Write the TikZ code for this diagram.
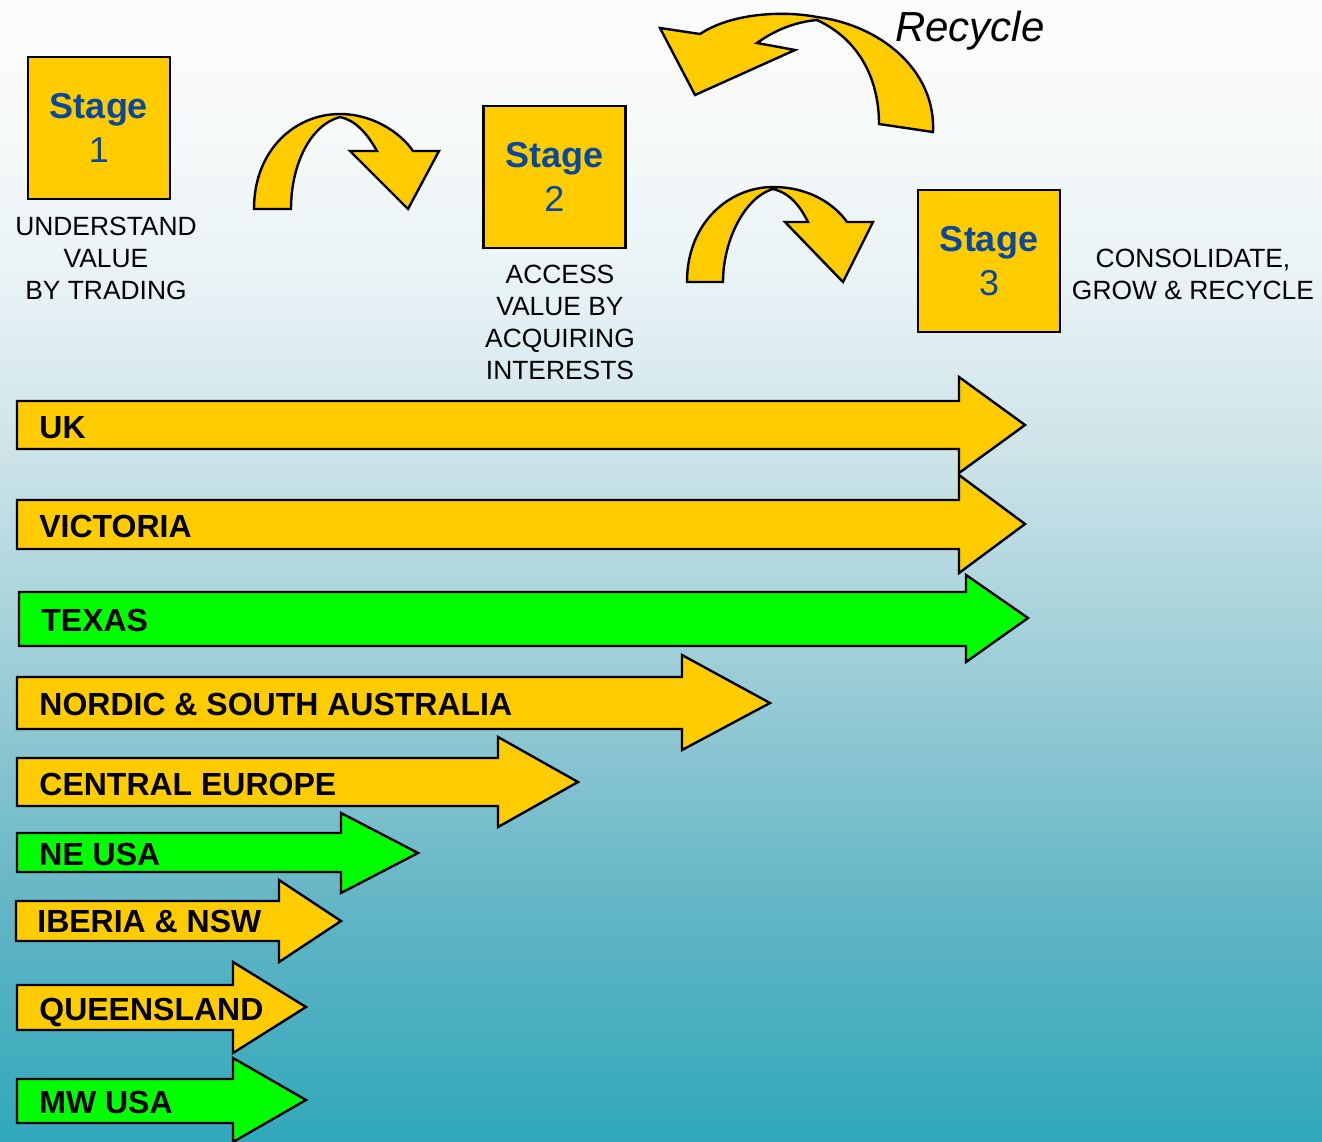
\documentclass[tikz,border=0pt]{standalone}
\usepackage{fontspec}
\setmainfont{Liberation Sans}
\usetikzlibrary{positioning}

\definecolor{stagegold}{RGB}{255,204,0}
\definecolor{regiongreen}{RGB}{0,255,0}
\definecolor{stageblue}{RGB}{10,72,160}

\pgfdeclareverticalshading{bgshade}{100bp}{rgb(0bp)=(0.19,0.66,0.73); rgb(25bp)=(0.19,0.66,0.73); rgb(35bp)=(0.38,0.71,0.77); rgb(45bp)=(0.60,0.80,0.84); rgb(55bp)=(0.80,0.89,0.91); rgb(62.5bp)=(0.91,0.95,0.96); rgb(70bp)=(0.97,0.98,0.98); rgb(75bp)=(0.99,0.99,0.99); rgb(100bp)=(0.99,0.99,0.99)}

\tikzset{
  region/.style={draw=black, very thick, line join=miter},
  regionlabel/.style={anchor=base west, inner sep=0pt, font=\fontsize{16}{19}\selectfont\bfseries},
  stagebox/.style={draw=black, very thick, fill=stagegold, minimum size=71pt, inner sep=0pt,
    align=center, text=stageblue, font=\fontsize{18}{22}\selectfont},
  stagelabel/.style={anchor=north, align=center, inner sep=0pt, font=\fontsize{13.2}{16}\selectfont},
  turn/.style={draw=black, very thick, fill=stagegold, line join=miter}
}

\begin{document}
\begin{tikzpicture}[x=0.5pt, y=-0.5pt]
    \shade[shading=bgshade] (0,0) rectangle (1322,1141);
    \useasboundingbox (0,0) rectangle (1322,1141);

    % stages
    \node[stagebox] (stage1) at (99,128) {\textbf{Stage}\\1};
    \node[stagebox] (stage2) at (554.5,177) {\textbf{Stage}\\2};
    \node[stagebox] (stage3) at (989,261) {\textbf{Stage}\\3};

    \node[stagelabel] (lab1) at (106,217) {UNDERSTAND\\VALUE\\BY TRADING};
    \node[stagelabel] (lab2) at (560,265) {ACCESS\\VALUE BY\\ACQUIRING\\INTERESTS};
    \node[stagelabel] (lab3) at (1193,249) {CONSOLIDATE,\\GROW \& RECYCLE};

    % curved arrows between stages
    \filldraw[turn] (254,209) .. controls (254,150) and (295,114) .. (340,114)
        .. controls (372,114) and (400,132) .. (413,151) -- (439,151) -- (408,209) -- (350,151) -- (377,151)
        .. controls (367,133) and (355,120) .. (340,117)
        .. controls (310,125) and (291,165) .. (291,209) -- cycle;
    \filldraw[turn] (687,282) .. controls (687,222) and (730,187) .. (773,187)
        .. controls (810,187) and (835,205) .. (847,222) -- (873,222) -- (843,282) -- (785,222) -- (808,222)
        .. controls (800,206) and (790,193) .. (773,189)
        .. controls (745,197) and (723,240) .. (723,282) -- cycle;
    \filldraw[turn] (933,132) .. controls (936,70) and (880,25) .. (817,17)
        .. controls (780,10) and (730,14) .. (700,34) -- (660,28) -- (695,95) -- (795,50) -- (757,43)
        .. controls (775,30) and (795,22) .. (817,20)
        .. controls (860,40) and (879,80) .. (879,124) -- cycle;
    \node[font=\fontsize{21}{25}\selectfont\itshape, inner sep=0pt] (recycle) at (970,31) {Recycle};

    % regions
    \filldraw[region, fill=stagegold] (17,401) -- (959,401) -- (959,377) -- (1025,425) -- (959,473) -- (959,449) -- (17,449) -- cycle;
    \node[regionlabel] (uk) at (39,438) {UK};

    \filldraw[region, fill=stagegold] (17,500) -- (959,500) -- (959,475) -- (1025,524) -- (959,573) -- (959,549) -- (17,549) -- cycle;
    \node[regionlabel] (victoria) at (39,537) {VICTORIA};

    \filldraw[region, fill=regiongreen] (19,592) -- (966,592) -- (966,575) -- (1028,618) -- (966,662) -- (966,646) -- (19,646) -- cycle;
    \node[regionlabel] (texas) at (41,631) {TEXAS};

    \filldraw[region, fill=stagegold] (17,677) -- (682,677) -- (682,655) -- (770,703) -- (682,750) -- (682,729) -- (17,729) -- cycle;
    \node[regionlabel] (nordic) at (39,715) {NORDIC \& SOUTH AUSTRALIA};

    \filldraw[region, fill=stagegold] (17,758) -- (498,758) -- (498,737) -- (578,782) -- (498,827) -- (498,806) -- (17,806) -- cycle;
    \node[regionlabel] (centraleu) at (39,795) {CENTRAL EUROPE};

    \filldraw[region, fill=regiongreen] (17,833) -- (341,833) -- (341,813) -- (418,853) -- (341,893) -- (341,872) -- (17,872) -- cycle;
    \node[regionlabel] (neusa) at (39,865) {NE USA};

    \filldraw[region, fill=stagegold] (16,901) -- (279,901) -- (279,880) -- (341,921) -- (279,962) -- (279,941) -- (16,941) -- cycle;
    \node[regionlabel] (iberia) at (37,932) {IBERIA \& NSW};

    \filldraw[region, fill=stagegold] (17,985) -- (233,985) -- (233,962) -- (306,1007) -- (233,1053) -- (233,1030) -- (17,1030) -- cycle;
    \node[regionlabel] (queensland) at (39,1020) {QUEENSLAND};

    \filldraw[region, fill=regiongreen] (17,1079) -- (233,1079) -- (233,1058) -- (306,1100) -- (233,1142) -- (233,1123) -- (17,1123) -- cycle;
    \node[regionlabel] (mwusa) at (39,1113) {MW USA};
\end{tikzpicture}
\end{document}
